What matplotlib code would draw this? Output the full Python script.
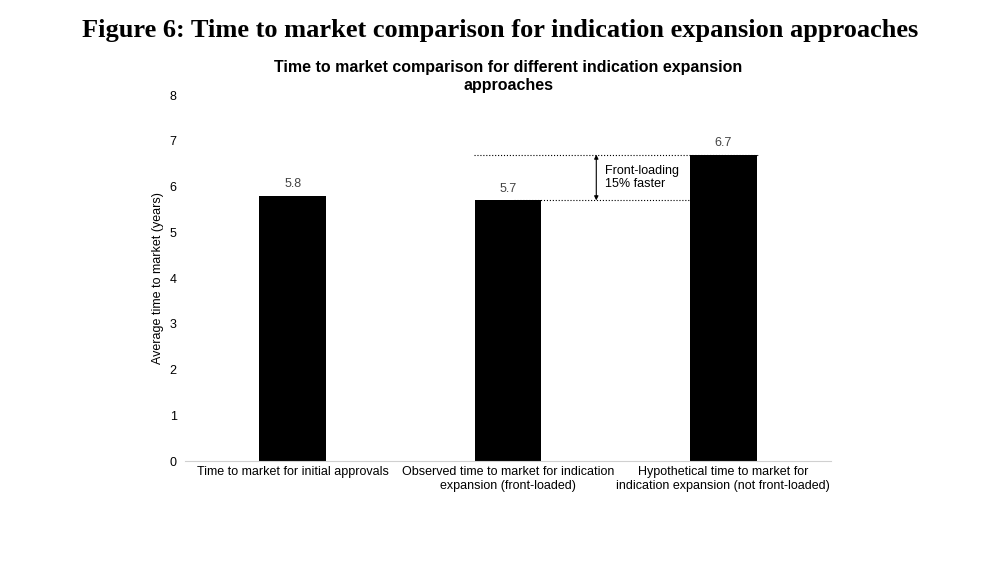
import matplotlib.pyplot as plt

plt.rcParams['font.family'] = 'Liberation Sans'

# Data
categories = ['Time to market for initial approvals',
              'Observed time to market for indication\nexpansion (front-loaded)',
              'Hypothetical time to market for\nindication expansion (not front-loaded)']
values = [5.8, 5.7, 6.7]

fig = plt.figure(figsize=(10, 5.63), dpi=100)
fig.text(0.5, 0.945, 'Figure 6: Time to market comparison for indication expansion approaches',
         ha='center', va='center', fontsize=19, fontweight='bold', family='Liberation Serif')

ax = fig.add_axes([0.185, 0.181, 0.646, 0.65])
x = range(len(values))
ax.bar(x, values, width=0.31, color='black')
for i, v in zip(x, values):
    ax.text(i, v + 0.12, f'{v:.1f}', ha='center', va='bottom', fontsize=9, color='#444444')

ax.set_xlim(-0.5, 2.5)
ax.set_ylim(0, 8)
ax.set_yticks(range(0, 9))
ax.set_xticks(list(x))
ax.set_xticklabels(categories, fontsize=9)
ax.tick_params(length=0, labelsize=9)
ax.tick_params(axis='y', pad=6)
for s in ['top', 'right', 'left']:
    ax.spines[s].set_visible(False)
ax.spines['bottom'].set_color('#d0d0d0')
ax.set_ylabel('Average time to market (years)', fontsize=9)
ax.set_title('Time to market comparison for different indication expansion\napproaches',
             fontsize=11.5, fontweight='bold', pad=4)

# Annotation of the front-loading gain
ax.plot([0.84, 2.16], [values[2], values[2]], ls=':', color='black', lw=0.8)
ax.plot([1.03, 1.84], [values[1], values[1]], ls=':', color='black', lw=0.8)
ax.annotate('', xy=(1.41, values[2]), xytext=(1.41, values[1]),
            arrowprops=dict(arrowstyle='<|-|>', color='black', lw=0.8,
                            mutation_scale=6, shrinkA=0, shrinkB=0))
ax.text(1.45, 6.2, 'Front-loading\n15% faster', fontsize=9, va='center', ha='left')

fig.savefig('out.png', dpi=100)
